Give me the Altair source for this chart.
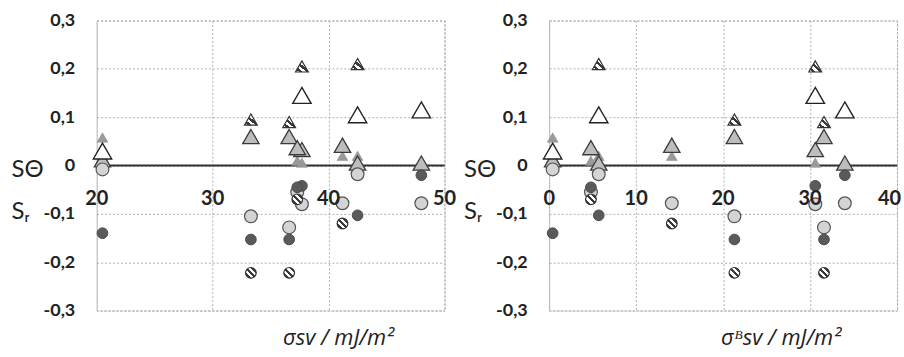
import altair as alt
import pandas as pd

# ---- data ----
samples = ["S1", "S2", "S3", "S4", "S5", "S6", "S7", "S8"]
sigma_sv = [20.5, 33.3, 36.6, 37.7, 41.2, 42.5, 48.0, 37.3]      # left panel x
sigma_sv_B = [0.4, 21.3, 31.6, 30.6, 14.1, 5.7, 34.0, 4.8]        # right panel x

s_theta_open = [0.03, None, None, 0.145, None, 0.105, 0.115, None]
s_theta_hatched = [None, 0.095, 0.09, 0.205, None, 0.21, None, None]
s_theta_grey = [0.012, 0.06, 0.06, 0.033, 0.042, 0.005, 0.005, 0.037]
s_theta_small = [0.058, None, None, 0.006, 0.02, 0.02, None, 0.01]
s_r_light = [-0.008, -0.105, -0.128, -0.08, -0.078, -0.018, -0.078, -0.055]
s_r_dark = [-0.14, -0.153, -0.153, -0.042, None, -0.103, -0.02, -0.045]
s_r_hatched = [None, -0.222, -0.222, None, -0.12, None, None, -0.07]

left_ticks = [20, 30, 40, 50]
right_ticks = [0, 10, 20, 30, 40]
y_ticks = [-0.3, -0.2, -0.1, 0, 0.1, 0.2, 0.3]

series_values = {
    "theta_small": s_theta_small,
    "theta_grey": s_theta_grey,
    "theta_open": s_theta_open,
    "theta_hatched": s_theta_hatched,
    "r_light": s_r_light,
    "r_dark": s_r_dark,
    "r_hatched": s_r_hatched,
}

rows = []
for name, vals in series_values.items():
    for s, xl, xr, v in zip(samples, sigma_sv, sigma_sv_B, vals):
        if v is not None:
            rows.append({"sample": s, "series": name, "xl": xl, "xr": xr, "value": v})
df = pd.DataFrame(rows)

# ---- styles ----
def stripes(dark="#3a3a3a"):
    stops = []
    edges = [0, 0.14, 0.28, 0.43, 0.57, 0.72, 0.86, 1.0]
    cols = ["white", dark, "white", dark, "white", dark, "white"]
    for i, c in enumerate(cols):
        stops.append(alt.GradientStop(color=c, offset=edges[i]))
        stops.append(alt.GradientStop(color=c, offset=edges[i + 1]))
    return alt.LinearGradient(gradient="linear", stops=stops, x1=0, y1=1, x2=1, y2=0)

styles = {
    "theta_small": dict(shape="triangle-up", size=120, fill="#9a9a9a", stroke="#8a8a8a", strokeWidth=0.5),
    "theta_grey": dict(shape="triangle-up", size=270, fill="#bdbdbd", stroke="#3a3a3a", strokeWidth=1.3),
    "theta_open": dict(shape="triangle-up", size=340, fill="white", stroke="#222222", strokeWidth=1.4),
    "theta_hatched": dict(shape="triangle-up", size=165, fill=stripes(), stroke="#333333", strokeWidth=1.2),
    "r_light": dict(shape="circle", size=165, fill="#d4d4d4", stroke="#555555", strokeWidth=1.2),
    "r_dark": dict(shape="circle", size=115, fill="#5a5a5a", stroke="#4a4a4a", strokeWidth=1),
    "r_hatched": dict(shape="circle", size=115, fill=stripes(), stroke="#333333", strokeWidth=1.2),
}

FONT = "Lato"
W, H = 349, 291

y_scale = alt.Scale(domain=[-0.3, 0.3], nice=False, zero=False)
y_axis = alt.Axis(
    values=y_ticks, grid=True, domain=False, ticks=False, tickSize=0,
    labelPadding=22, labelFontSize=18, labelFont=FONT, labelFontWeight="bold",
    labelColor="#222222",
    labelExpr="replace(toString(datum.value), '.', ',')",
    title=["SΘ", "Sᵣ"], titleAngle=0, titleAlign="left", titleBaseline="middle",
    titleX=-86, titleY=150, titleFontSize=24, titleFont=FONT,
    titleFontWeight="normal", titleLineHeight=42, titleColor="#222222",
)


def panel(xfield, domain, ticks, title, title_x, title_y, pull_last):
    x_scale = alt.Scale(domain=domain, nice=False, zero=False)
    x_axis = alt.Axis(
        values=ticks, grid=True, labels=False, ticks=False, domain=False,
        title=title, titleX=title_x, titleY=title_y, titleAlign="center",
        titleBaseline="middle", titleFontSize=22, titleFont="Open Sans",
        titleFontStyle="italic", titleFontWeight="normal", titleColor="#222222",
    )
    layers = []
    zero = alt.Chart(pd.DataFrame({"z": [0]})).mark_rule(
        color="#333333", strokeWidth=2
    ).encode(y=alt.Y("z:Q", scale=y_scale, axis=y_axis))
    for name in series_values:
        st = styles[name]
        layers.append(
            alt.Chart(df).transform_filter(alt.datum.series == name).mark_point(
                filled=True, opacity=1, **st
            ).encode(
                x=alt.X(f"{xfield}:Q", scale=x_scale, axis=x_axis),
                y=alt.Y("value:Q", scale=y_scale, axis=y_axis),
            )
        )
    tick_df = pd.DataFrame({"t": ticks, "lbl": [str(t) for t in ticks]})
    text_kw = dict(dy=34, fontSize=20, font=FONT, fontWeight="bold", color="#222222")
    enc = dict(
        x=alt.X("t:Q", scale=x_scale, axis=x_axis),
        y=alt.datum(0),
        text="lbl:N",
    )
    if pull_last:
        inner = alt.Chart(tick_df.iloc[:-1]).mark_text(**text_kw).encode(**enc)
        last = alt.Chart(tick_df.iloc[-1:]).mark_text(align="right", dx=4, **text_kw).encode(**enc)
        label_layers = [inner, last]
    else:
        label_layers = [alt.Chart(tick_df).mark_text(**text_kw).encode(**enc)]
    return alt.layer(zero, *layers, *label_layers).properties(width=W, height=H)


left = panel("xl", [20, 50], left_ticks, "σsv / mJ/m²", 242, 27, False)
right = panel("xr", [0, 40], right_ticks, "σᴮsv / mJ/m²", 232, 27, True)

chart = alt.hconcat(left, right, spacing=105, bounds="flush").properties(
    padding={"left": 10, "top": 10, "right": 2, "bottom": 0},
    background="white",
).configure_view(
    stroke="#a8a8a8", strokeDash=[2, 2], strokeWidth=1
).configure_axis(
    gridColor="#b0b0b0", gridDash=[2, 2], gridWidth=1
)

chart.save("out.html", embed_options={"renderer": "svg", "actions": False})
